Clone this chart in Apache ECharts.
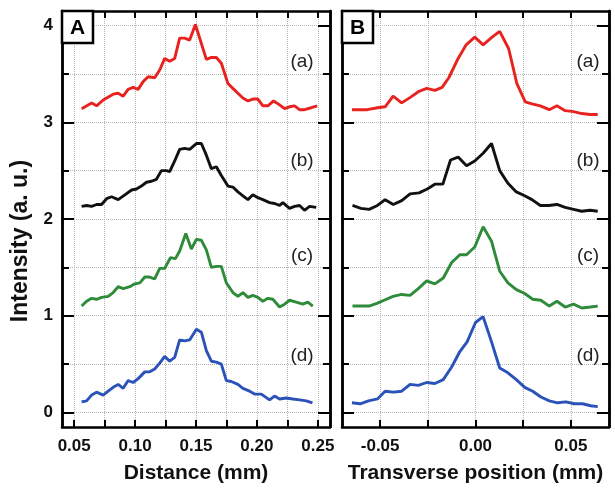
<!DOCTYPE html>
<html><head><meta charset="utf-8">
<script src="https://cdn.jsdelivr.net/npm/echarts@6/dist/echarts.min.js"></script>
<style>html,body{margin:0;padding:0;background:#fff}#c{width:615px;height:489px}</style>
</head><body><div id="c"></div>
<script>
// ---- tick values / labels ----
const distTicks = [0.05, 0.075, 0.10, 0.125, 0.15, 0.175, 0.20, 0.225, 0.25];
const distLabels = [0.05, 0.10, 0.15, 0.20, 0.25];
const transTicks = [-0.05, -0.025, 0, 0.025, 0.05];
const transLabels = [-0.05, 0, 0.05];
const intensityMajor = [0, 1, 2, 3, 4];
const intensityMinor = [0.5, 1.5, 2.5, 3.5];
const curveTags = ['(a)', '(b)', '(c)', '(d)'];

// ---- Panel A : intensity vs distance (mm) ----
const distA_a = [[0.0561,3.14],[0.0643,3.20],[0.0684,3.17],[0.0738,3.23],[0.082,3.29],[0.0861,3.30],[0.0902,3.27],[0.0943,3.34],[0.0984,3.36],[0.1025,3.34],[0.1066,3.42],[0.1107,3.47],[0.1161,3.46],[0.1202,3.54],[0.1243,3.66],[0.1284,3.63],[0.1325,3.66],[0.1366,3.87],[0.1407,3.87],[0.1448,3.85],[0.1495,4.01],[0.1585,3.65],[0.1626,3.67],[0.1667,3.67],[0.1708,3.61],[0.1762,3.40],[0.1803,3.35],[0.1844,3.30],[0.1885,3.25],[0.1926,3.22],[0.1967,3.24],[0.2008,3.24],[0.2049,3.17],[0.209,3.17],[0.2137,3.22],[0.2186,3.18],[0.2227,3.14],[0.2268,3.16],[0.2309,3.17],[0.235,3.13],[0.2391,3.13],[0.2446,3.15],[0.2495,3.17]];
const distA_b = [[0.0561,2.13],[0.0602,2.14],[0.0643,2.13],[0.0684,2.15],[0.0725,2.15],[0.0766,2.21],[0.0807,2.23],[0.0861,2.20],[0.0916,2.25],[0.0971,2.30],[0.1011,2.31],[0.1052,2.34],[0.1093,2.38],[0.1134,2.39],[0.1175,2.41],[0.1216,2.50],[0.1257,2.50],[0.1284,2.49],[0.1325,2.60],[0.1366,2.72],[0.1407,2.73],[0.1448,2.72],[0.1503,2.78],[0.1544,2.78],[0.1585,2.66],[0.1626,2.52],[0.1667,2.54],[0.1708,2.45],[0.1762,2.34],[0.1803,2.33],[0.1844,2.28],[0.1885,2.24],[0.1926,2.20],[0.1967,2.25],[0.2008,2.22],[0.2049,2.20],[0.2104,2.17],[0.2145,2.16],[0.2186,2.14],[0.2213,2.17],[0.2268,2.11],[0.2309,2.13],[0.235,2.14],[0.2391,2.09],[0.2432,2.13],[0.2487,2.12]];
const distA_c = [[0.0561,1.10],[0.0602,1.15],[0.0643,1.18],[0.0684,1.17],[0.0725,1.19],[0.0779,1.20],[0.082,1.24],[0.0861,1.30],[0.0902,1.28],[0.0957,1.30],[0.0998,1.33],[0.1039,1.34],[0.108,1.40],[0.112,1.40],[0.1161,1.38],[0.1202,1.49],[0.1243,1.49],[0.129,1.60],[0.1331,1.59],[0.1366,1.67],[0.1416,1.85],[0.1462,1.69],[0.1503,1.79],[0.1544,1.78],[0.1585,1.68],[0.1626,1.50],[0.1667,1.51],[0.1708,1.51],[0.1749,1.34],[0.1803,1.24],[0.1844,1.20],[0.1885,1.24],[0.1926,1.19],[0.1967,1.21],[0.2008,1.19],[0.2049,1.15],[0.209,1.18],[0.2131,1.17],[0.2186,1.09],[0.2227,1.12],[0.2268,1.16],[0.2323,1.14],[0.2377,1.12],[0.2418,1.14],[0.2459,1.10]];
const distA_d = [[0.0561,0.11],[0.0602,0.12],[0.0643,0.18],[0.0684,0.21],[0.0738,0.18],[0.0779,0.22],[0.082,0.26],[0.0861,0.29],[0.0902,0.25],[0.0943,0.33],[0.0984,0.31],[0.1025,0.35],[0.108,0.42],[0.112,0.42],[0.1161,0.45],[0.1202,0.51],[0.1243,0.58],[0.1284,0.53],[0.1325,0.57],[0.1366,0.75],[0.1407,0.74],[0.1448,0.75],[0.1503,0.86],[0.1544,0.83],[0.1585,0.64],[0.1626,0.53],[0.1667,0.52],[0.1708,0.50],[0.1749,0.33],[0.179,0.32],[0.1844,0.29],[0.1885,0.25],[0.194,0.22],[0.1981,0.19],[0.2036,0.19],[0.2104,0.13],[0.2145,0.17],[0.2186,0.14],[0.2241,0.15],[0.2295,0.14],[0.235,0.13],[0.2405,0.12],[0.2456,0.10]];

// ---- Panel B : intensity vs transverse position (mm) ----
const transB_a = [[-0.0648,3.13],[-0.0567,3.13],[-0.0514,3.15],[-0.0474,3.16],[-0.0432,3.27],[-0.0387,3.20],[-0.034,3.26],[-0.0296,3.32],[-0.0256,3.35],[-0.0213,3.33],[-0.0175,3.36],[-0.014,3.46],[-0.0091,3.66],[-0.0049,3.80],[-0.0004,3.88],[0.004,3.80],[0.0087,3.88],[0.0127,3.94],[0.0174,3.76],[0.0217,3.40],[0.0261,3.21],[0.0296,3.19],[0.034,3.17],[0.0387,3.13],[0.0427,3.17],[0.047,3.12],[0.0514,3.11],[0.0557,3.09],[0.0601,3.08],[0.0641,3.08]];
const transB_b = [[-0.0645,2.14],[-0.0601,2.11],[-0.0558,2.10],[-0.0514,2.14],[-0.0474,2.20],[-0.0431,2.15],[-0.0387,2.19],[-0.0343,2.26],[-0.0296,2.27],[-0.0253,2.31],[-0.0213,2.36],[-0.0171,2.36],[-0.0131,2.61],[-0.0091,2.64],[-0.0047,2.55],[-0.0004,2.60],[0.004,2.68],[0.0084,2.78],[0.0127,2.50],[0.017,2.37],[0.0214,2.28],[0.0258,2.24],[0.0296,2.20],[0.034,2.14],[0.0383,2.14],[0.0427,2.15],[0.047,2.12],[0.0514,2.10],[0.0557,2.08],[0.0601,2.09],[0.0641,2.08]];
const transB_c = [[-0.0645,1.10],[-0.0558,1.10],[-0.0514,1.13],[-0.0479,1.16],[-0.0432,1.20],[-0.0387,1.22],[-0.0343,1.21],[-0.03,1.28],[-0.0256,1.36],[-0.0213,1.33],[-0.0169,1.39],[-0.0125,1.55],[-0.0082,1.63],[-0.0047,1.63],[-0.0004,1.71],[0.004,1.92],[0.0084,1.77],[0.0127,1.46],[0.017,1.34],[0.0214,1.27],[0.0258,1.23],[0.03,1.17],[0.0343,1.16],[0.0387,1.10],[0.0427,1.15],[0.047,1.09],[0.0514,1.12],[0.0557,1.08],[0.0601,1.09],[0.0641,1.10]];
const transB_d = [[-0.0648,0.10],[-0.0605,0.09],[-0.0561,0.12],[-0.0514,0.14],[-0.0474,0.22],[-0.0431,0.21],[-0.0387,0.22],[-0.0343,0.29],[-0.03,0.28],[-0.0256,0.31],[-0.0213,0.30],[-0.0169,0.34],[-0.0125,0.47],[-0.0082,0.63],[-0.0044,0.73],[0.0,0.93],[0.004,0.99],[0.0084,0.73],[0.0127,0.46],[0.017,0.41],[0.0214,0.34],[0.0258,0.26],[0.03,0.22],[0.0343,0.16],[0.0387,0.12],[0.043,0.10],[0.0474,0.11],[0.0518,0.09],[0.0561,0.09],[0.0604,0.07],[0.0641,0.06]];

const colors = ['#e8231f', '#111111', '#2e8b3a', '#2a52b8'];
const FONT = 'Liberation Sans, Arial, sans-serif';
const Y_MIN = -0.15, Y_MAX = 4.15;

const chart = echarts.init(document.getElementById('c'), null, {renderer: 'canvas'});

const axisLine = {show: true, onZero: false, lineStyle: {color: '#000', width: 2.5}};
const split = {show: true, lineStyle: {color: '#b5b5b5', type: 'dotted', width: 1}};

function xAxes(grid, min, max, ticks, labels, name) {
  return [
    {type: 'value', gridIndex: grid, position: 'bottom', min, max,
     axisLine, axisTick: {show: true, inside: true, length: 7, customValues: ticks, lineStyle: {color: '#000', width: 2}},
     axisLabel: {show: true, customValues: labels, margin: 11, color: '#111', fontFamily: FONT, fontWeight: 'bold', fontSize: 17,
                 formatter: v => Number(v).toFixed(2)},
     splitLine: split,
     name, nameLocation: 'middle', nameGap: 36,
     nameTextStyle: {color: '#111', fontFamily: FONT, fontWeight: 'bold', fontSize: 21}},
    {type: 'value', gridIndex: grid, position: 'top', min, max,
     axisLine, axisTick: {show: true, inside: true, length: 7, customValues: ticks, lineStyle: {color: '#000', width: 2}},
     axisLabel: {show: false}, splitLine: {show: false}}
  ];
}
function yAxes(grid, showLabels) {
  const out = [];
  ['left', 'right'].forEach(pos => {
    out.push({type: 'value', gridIndex: grid, position: pos, min: Y_MIN, max: Y_MAX,
      axisLine, axisTick: {show: true, inside: true, length: 12, customValues: intensityMajor, lineStyle: {color: '#000', width: 2}},
      axisLabel: {show: showLabels && pos === 'left', customValues: intensityMajor, margin: 9, color: '#111', fontFamily: FONT, fontWeight: 'bold', fontSize: 17},
      splitLine: pos === 'left' ? split : {show: false}});
    out.push({type: 'value', gridIndex: grid, position: pos, min: Y_MIN, max: Y_MAX,
      axisLine, axisTick: {show: true, inside: true, length: 7, customValues: intensityMinor, lineStyle: {color: '#000', width: 2}},
      axisLabel: {show: false},
      splitLine: pos === 'left' ? split : {show: false}});
  });
  return out;
}

const dataA = [distA_a, distA_b, distA_c, distA_d];
const dataB = [transB_a, transB_b, transB_c, transB_d];
const series = [];
dataA.forEach((d, i) => series.push({type: 'line', xAxisIndex: 0, yAxisIndex: 0, data: d, showSymbol: false,
  lineStyle: {color: colors[i], width: 2.9}, z: 5}));
dataB.forEach((d, i) => series.push({type: 'line', xAxisIndex: 2, yAxisIndex: 4, data: d, showSymbol: false,
  lineStyle: {color: colors[i], width: 2.9}, z: 5}));

const tagY = [62, 161, 256, 356];
const graphics = [];
[[62, 'A', 302], [342, 'B', 588]].forEach(([gx, letter, tx]) => {
  graphics.push({type: 'rect', shape: {x: gx, y: 11, width: 31, height: 32},
    style: {fill: '#fff', stroke: '#000', lineWidth: 2.5}, z: 100});
  graphics.push({type: 'text', x: gx + 15.5, y: 28, z: 101,
    style: {text: letter, fill: '#000', font: 'bold 21px ' + FONT, textAlign: 'center', textVerticalAlign: 'middle'}});
  curveTags.forEach((t, i) => graphics.push({type: 'text', x: tx, y: tagY[i], z: 101,
    style: {text: t, fill: '#222', font: '19px ' + FONT, textAlign: 'center', textVerticalAlign: 'middle'}}));
});
graphics.push({type: 'text', x: 21, y: 241, rotation: Math.PI / 2, z: 101,
  style: {text: 'Intensity (a. u.)', fill: '#111', font: 'bold 23px ' + FONT, textAlign: 'center', textVerticalAlign: 'middle'}});

chart.setOption({
  animation: false,
  backgroundColor: '#fff',
  grid: [
    {left: 62, top: 11, width: 268, height: 421},
    {left: 342, top: 11, width: 267, height: 421}
  ],
  xAxis: [
    ...xAxes(0, 0.04, 0.26, distTicks, distLabels, 'Distance (mm)'),
    ...xAxes(1, -0.07, 0.07, transTicks, transLabels, 'Transverse position (mm)')
  ],
  yAxis: [...yAxes(0, true), ...yAxes(1, false)],
  series,
  graphic: graphics
});
</script>
</body></html>
